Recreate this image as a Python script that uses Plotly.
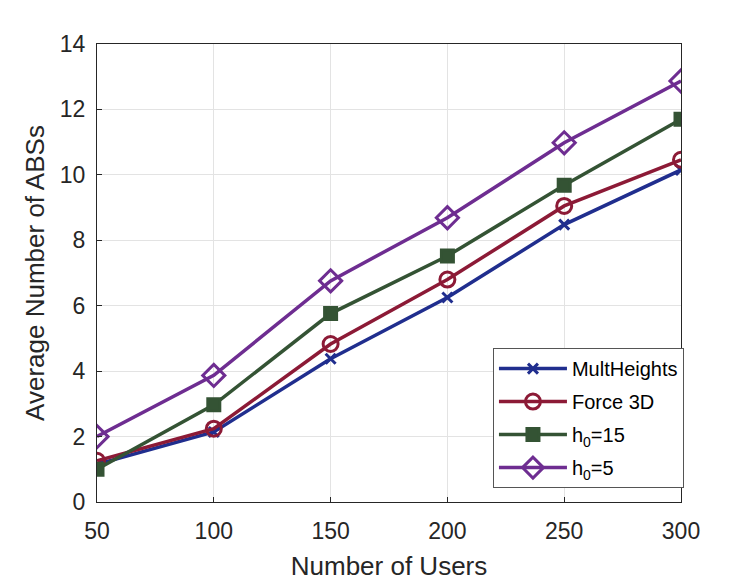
import plotly.graph_objects as go

users = [50, 100, 150, 200, 250, 300]
mult_heights = [1.15, 2.14, 4.38, 6.25, 8.48, 10.15]
force_3d = [1.26, 2.24, 4.83, 6.8, 9.05, 10.46]
h0_15 = [1.0, 2.97, 5.76, 7.52, 9.68, 11.7]
h0_5 = [2.0, 3.87, 6.76, 8.69, 10.98, 12.87]

names = ["MultHeights", "Force 3D", "h<sub>0</sub>=15", "h<sub>0</sub>=5"]
colors = ["#202e8e", "#8c1a36", "#345334", "#6e2d91"]
series = [mult_heights, force_3d, h0_15, h0_5]
symbols = ["x-thin-open", "circle-open", "square", "diamond-open"]
sizes = [10, 15, 12, 17]

fig = go.Figure()
for i, (name, vals, col, sym, sz) in enumerate(zip(names, series, colors, symbols, sizes)):
    fig.add_trace(go.Scatter(
        x=users, y=vals, name=name, mode="lines+markers", legendgroup=f"g{i}",
        line=dict(color=col, width=3.5),
        marker=dict(symbol=sym, size=sz, color=col,
                    line=dict(color=col, width=3)),
    ))

font_family = "Liberation Sans, Arial, sans-serif"
fig.update_layout(
    width=752, height=581,
    margin=dict(l=89, r=79, t=36, b=87),
    paper_bgcolor="white", plot_bgcolor="white",
    font=dict(family=font_family, color="#262626"),
    showlegend=True,
    legend=dict(
        x=0.678, y=0.336, xanchor="left", yanchor="top",
        bgcolor="white", bordercolor="#555555", borderwidth=1,
        font=dict(size=20, color="#000000", family=font_family),
        tracegroupgap=4, itemwidth=68,
    ),
    xaxis=dict(
        range=[50, 300], tickvals=users,
        title=dict(text="Number of Users", font=dict(size=26), standoff=14),
        tickfont=dict(size=23), showgrid=True, gridcolor="#e3e3e3",
        showline=True, linecolor="#262626", linewidth=1, mirror=True,
        ticks="inside", ticklen=5, tickcolor="#262626", zeroline=False,
        ticklabelstandoff=8,
    ),
    yaxis=dict(
        range=[0, 14], tickvals=[0, 2, 4, 6, 8, 10, 12, 14],
        title=dict(text="Average Number of ABSs", font=dict(size=26), standoff=7),
        tickfont=dict(size=23), showgrid=True, gridcolor="#e3e3e3",
        showline=True, linecolor="#262626", linewidth=1, mirror=True,
        ticks="inside", ticklen=5, tickcolor="#262626", zeroline=False,
        ticklabelstandoff=6,
    ),
)

fig.write_html("out.html")
